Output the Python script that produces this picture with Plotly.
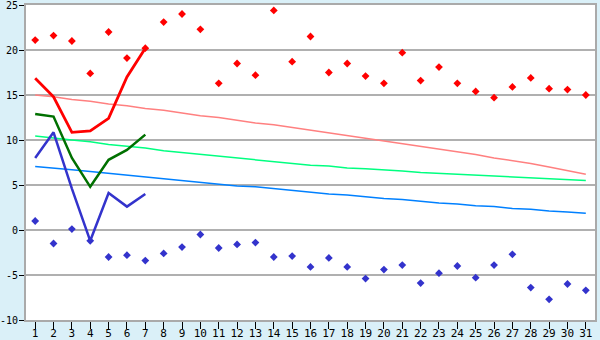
import plotly.graph_objects as go

days = list(range(1, 32))

max_pts = [21.1, 21.6, 21.0, 17.4, 22.0, 19.1, 20.2, 23.1, 24.0, 22.3,
           16.3, 18.5, 17.2, 24.4, 18.7, 21.5, 17.5, 18.5, 17.1, 16.3,
           19.7, 16.6, 18.1, 16.3, 15.4, 14.7, 15.9, 16.9, 15.7, 15.6, 15.0]
min_pts = [1.0, -1.5, 0.1, -1.2, -3.0, -2.8, -3.4, -2.6, -1.9, -0.5,
           -2.0, -1.6, -1.4, -3.0, -2.9, -4.1, -3.1, -4.1, -5.4, -4.4,
           -3.9, -5.9, -4.8, -4.0, -5.3, -3.9, -2.7, -6.4, -7.7, -6.0, -6.7]

cur_days = [1, 2, 3, 4, 5, 6, 7]
cur_max = [16.85, 14.8, 10.85, 11.0, 12.4, 17.0, 20.2]
cur_mean = [12.9, 12.6, 8.0, 4.8, 7.8, 8.9, 10.6]
cur_min = [8.0, 10.85, 4.6, -1.2, 4.1, 2.6, 4.0]

norm_max = [15.0, 14.8, 14.5, 14.3, 14.0, 13.8, 13.5, 13.3, 13.0, 12.7,
            12.5, 12.2, 11.9, 11.7, 11.4, 11.1, 10.8, 10.5, 10.2, 9.9,
            9.6, 9.3, 9.0, 8.7, 8.4, 8.0, 7.7, 7.4, 7.0, 6.6, 6.2]
norm_mean = [10.45, 10.2, 10.0, 9.8, 9.5, 9.3, 9.1, 8.8, 8.6, 8.4,
             8.2, 8.0, 7.8, 7.6, 7.4, 7.2, 7.1, 6.9, 6.8, 6.7,
             6.55, 6.4, 6.3, 6.2, 6.05, 6.0, 5.9, 5.8, 5.7, 5.6, 5.5]
norm_min = [7.05, 6.9, 6.7, 6.5, 6.3, 6.1, 5.9, 5.7, 5.5, 5.3,
            5.1, 4.9, 4.8, 4.6, 4.4, 4.2, 4.0, 3.9, 3.7, 3.5,
            3.4, 3.2, 3.0, 2.9, 2.7, 2.6, 2.4, 2.3, 2.1, 2.0, 1.85]

y_ticks = [-10, -5, 0, 5, 10, 15, 20, 25]
y_labels = ["-10", "-5", "0", "5", "10", "15", "20", "25"]

fig = go.Figure()
fig.add_trace(go.Scatter(x=days, y=norm_max, mode="lines", line=dict(color="#ff8080", width=1.5)))
fig.add_trace(go.Scatter(x=days, y=norm_mean, mode="lines", line=dict(color="#00ff80", width=1.5)))
fig.add_trace(go.Scatter(x=days, y=norm_min, mode="lines", line=dict(color="#0080ff", width=1.5)))
fig.add_trace(go.Scatter(x=days, y=max_pts, mode="markers",
                         marker=dict(symbol="diamond", size=6, color="#ff0000")))
fig.add_trace(go.Scatter(x=days, y=min_pts, mode="markers",
                         marker=dict(symbol="diamond", size=6, color="#3333cc")))
fig.add_trace(go.Scatter(x=cur_days, y=cur_max, mode="lines", line=dict(color="#ff0000", width=2.8)))
fig.add_trace(go.Scatter(x=cur_days, y=cur_mean, mode="lines", line=dict(color="#007000", width=2.5)))
fig.add_trace(go.Scatter(x=cur_days, y=cur_min, mode="lines", line=dict(color="#3333cc", width=2.5)))

fig.update_layout(
    width=600, height=340,
    margin=dict(l=26, r=5, t=5, b=20, autoexpand=False),
    paper_bgcolor="#daf0f8",
    plot_bgcolor="#ffffff",
    showlegend=False,
    font=dict(family="DejaVu Sans Mono", size=11, color="#000000"),
    xaxis=dict(range=[0.5, 31.5], tickvals=days, ticktext=[str(d) for d in days],
               ticks="outside", ticklen=7, tickcolor="#000000", showgrid=False,
               ticklabelstandoff=-5, ticklabeloverflow="allow",
               showline=True, linecolor="#aaaaaa", linewidth=2, mirror=True,
               zeroline=False, fixedrange=True, automargin=False),
    yaxis=dict(range=[-10, 25], tickvals=y_ticks, ticktext=y_labels,
               ticks="outside", ticklen=5, tickfont=dict(size=10),
               tickcolor="#000000", showgrid=True, gridcolor="#b0b0b0", gridwidth=2,
               ticklabelstandoff=-1, ticklabeloverflow="allow",
               showline=True, linecolor="#aaaaaa", linewidth=2, mirror=True,
               zeroline=False, fixedrange=True, automargin=False),
)

fig.write_html("out.html")
